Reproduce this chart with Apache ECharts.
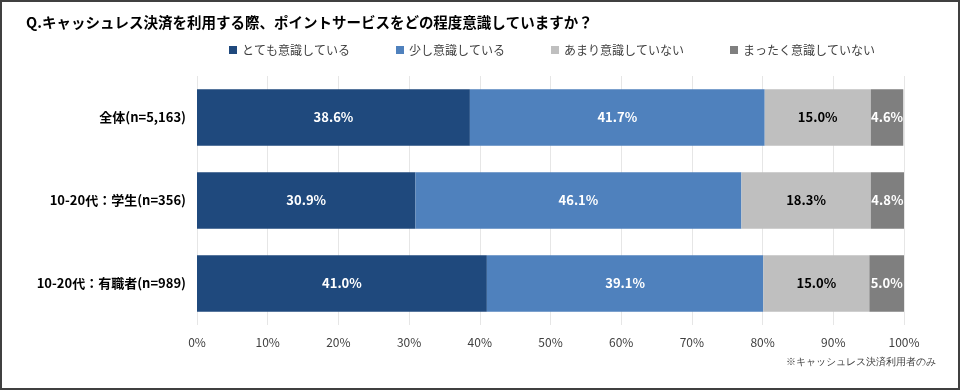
<!DOCTYPE html>
<html><head><meta charset="utf-8">
<script src="https://cdn.jsdelivr.net/npm/echarts@6/dist/echarts.min.js"></script>
<style>
html,body{margin:0;padding:0;background:#fff;}
#wrap{position:absolute;left:0;top:0;width:956px;height:386px;border:2px solid #404040;}
#c{width:956px;height:386px;}
</style></head>
<body><div id="wrap"><div id="c"></div></div>
<script>
const categories = ['全体(n=5,163)', '10-20代：学生(n=356)', '10-20代：有職者(n=989)'];
const seriesNames = ['とても意識している', '少し意識している', 'あまり意識していない', 'まったく意識していない'];
const veryAware = [38.6, 30.9, 41.0];
const slightlyAware = [41.7, 46.1, 39.1];
const notMuch = [15.0, 18.3, 15.0];
const notAtAll = [4.6, 4.8, 5.0];
const xTicks = [0, 10, 20, 30, 40, 50, 60, 70, 80, 90, 100];
const colors = ['#1F497D', '#4F81BD', '#BFBFBF', '#7F7F7F'];
const labelColors = ['#fff', '#fff', '#000', '#fff'];
const values = [veryAware, slightlyAware, notMuch, notAtAll];

const chart = echarts.init(document.getElementById('c'));
const font = '"Noto Sans CJK JP", "Noto Sans", sans-serif';
chart.setOption({
  animation: false,
  textStyle: {fontFamily: font},
  title: {
    text: 'Q.キャッシュレス決済を利用する際、ポイントサービスをどの程度意識していますか？',
    left: 19, top: 8,
    textStyle: {fontSize: 14.5, fontWeight: 'bold', color: '#000', fontFamily: font}
  },
  legend: {
    top: 37, left: 222,
    itemWidth: 8, itemHeight: 8, itemGap: 46,
    icon: 'rect',
    textStyle: {fontSize: 12, color: '#404040', fontFamily: font},
    data: seriesNames
  },
  grid: {left: 195, right: 54, top: 74, bottom: 63},
  xAxis: {
    type: 'value', min: 0, max: 100, interval: 10,
    axisLabel: {formatter: v => xTicks.includes(v) ? v + '%' : '', fontSize: 12, color: '#404040', margin: 11},
    splitLine: {lineStyle: {color: '#E6E6E6'}},
    axisLine: {show: false}, axisTick: {show: false}
  },
  yAxis: {
    type: 'category', inverse: true, data: categories,
    axisLabel: {fontSize: 13, fontWeight: 'bold', color: '#000', margin: 11},
    axisLine: {show: false}, axisTick: {show: false}
  },
  series: seriesNames.map((n, i) => ({
    name: n, type: 'bar', stack: 'all', barWidth: '68%',
    itemStyle: {color: colors[i]},
    data: values[i],
    label: {show: true, position: 'inside', formatter: p => p.value.toFixed(1) + '%',
      color: labelColors[i], fontWeight: 'bold', fontSize: 13, fontFamily: font}
  })),
  graphic: [{
    type: 'text', right: 22, top: 355,
    style: {text: '※キャッシュレス決済利用者のみ', fontSize: 10, fill: '#404040', font: '10px ' + font}
  }]
});
</script></body></html>
